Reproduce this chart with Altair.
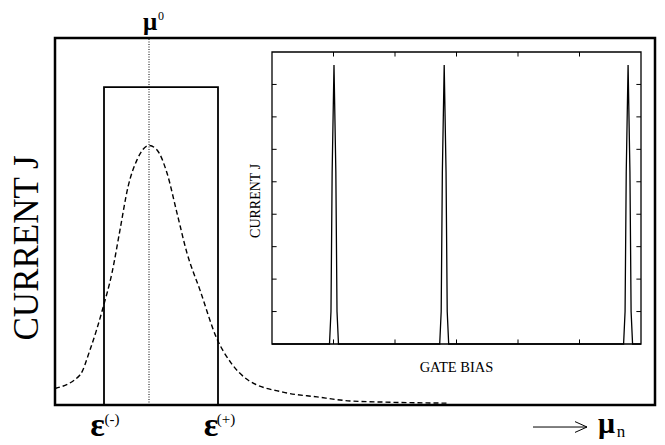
import altair as alt
import pandas as pd

# ---------------- main panel data (arbitrary units) ----------------
curve_x = [0.0, 2.5, 3.5, 4.8, 5.7, 6.5, 7.3, 8.2, 9.4, 10.2, 11.2, 12.2, 13.2, 14.5,
           16.2, 17.6, 19.3, 22.8, 26.2, 29.5, 32.8, 39.3]
curve_y = [0.045, 0.082, 0.15, 0.265, 0.36, 0.477, 0.594, 0.668, 0.707, 0.695, 0.632,
           0.523, 0.414, 0.313, 0.18, 0.115, 0.068, 0.035, 0.022, 0.011, 0.008, 0.005]
window_x = [4.9, 4.9, 16.3, 16.3]
window_y = [0.0, 0.866, 0.866, 0.0]
mu0 = 9.4
eps_minus = 4.9
eps_plus = 16.3

# ---------------- inset data ----------------
inset_x = [0.0,
           0.935, 0.959, 0.978, 1.008, 1.038, 1.057, 1.081,
           2.727, 2.751, 2.770, 2.800, 2.830, 2.849, 2.873,
           5.717, 5.741, 5.760, 5.790, 5.820, 5.839, 5.863,
           6.0]
inset_y = [0.0,
           0.0, 1.0, 5.3, 8.6, 5.3, 1.0, 0.0,
           0.0, 1.0, 5.3, 8.6, 5.3, 1.0, 0.0,
           0.0, 1.0, 5.3, 8.6, 5.3, 1.0, 0.0,
           0.0]
inset_xticks = [1, 2, 3, 4, 5]
inset_yticks = [1, 2, 3, 4, 5, 6, 7, 8]

SERIF = "Liberation Serif"

# ---------------- main scales ----------------
mx = dict(scale=alt.Scale(domain=[0, 60]), axis=None)
my = dict(scale=alt.Scale(domain=[0, 1]), axis=None)

curve_df = pd.DataFrame({"x": curve_x, "y": curve_y, "i": range(len(curve_x))})
window_df = pd.DataFrame({"x": window_x, "y": window_y, "i": range(len(window_x))})

curve = alt.Chart(curve_df).mark_line(
    color="black", strokeWidth=1.4, strokeDash=[5, 3], interpolate="monotone"
).encode(x=alt.X("x:Q", **mx), y=alt.Y("y:Q", **my), order="i:Q")

window = alt.Chart(window_df).mark_line(color="black", strokeWidth=1.8).encode(
    x=alt.X("x:Q", **mx), y=alt.Y("y:Q", **my), order="i:Q")

dotted = alt.Chart(pd.DataFrame({"x": [mu0], "y": [0.0], "y2": [1.0]})).mark_rule(
    color="black", strokeWidth=1, strokeDash=[1, 1.5]
).encode(x=alt.X("x:Q", **mx), y=alt.Y("y:Q", **my), y2="y2:Q")


def label(text, x, y, size, font=SERIF, angle=0, baseline="alphabetic", weight="normal"):
    return alt.Chart(pd.DataFrame({"x": [x], "y": [y], "t": [text]})).mark_text(
        font=font, fontSize=size, angle=angle, align="center", baseline=baseline,
        fontWeight=weight, color="black"
    ).encode(x=alt.X("x:Q", **mx), y=alt.Y("y:Q", **my), text="t:N")


main_ylabel = label("CURRENT J", -2.8, 0.428, 35, angle=270, baseline="middle")
mu_label = label("μ", mu0 + 0.1, 1.021, 25, weight="bold")
mu_sup = label("0", mu0 + 1.2, 1.050, 12)
em_label = label("ε", eps_minus - 0.65, -0.085, 34, weight="bold")
em_sup = label("(-)", eps_minus + 0.8, -0.052, 15)
ep_label = label("ε", eps_plus - 0.7, -0.085, 34, weight="bold")
ep_sup = label("(+)", eps_plus + 0.8, -0.052, 15)
mu_n = label("μ", 55.15, -0.076, 30, weight="bold")
n_sub = label("n", 56.6, -0.087, 17)

arrow_df = pd.DataFrame({"x": [47.8], "x2": [53.2], "y": [-0.06]})
arrow_shaft = alt.Chart(arrow_df).mark_rule(color="black", strokeWidth=1).encode(
    x=alt.X("x:Q", **mx), x2="x2:Q", y=alt.Y("y:Q", **my))
arrow_head = alt.Chart(arrow_df).mark_point(
    shape="M -1 -0.45 L 0 0 L -1 0.45", filled=False, size=576,
    color="black", strokeWidth=1, opacity=1
).encode(x=alt.X("x2:Q", **mx), y=alt.Y("y:Q", **my))

main = alt.layer(curve, window, dotted, main_ylabel, mu_label, mu_sup, em_label, em_sup,
                 ep_label, ep_sup, arrow_shaft, arrow_head, mu_n, n_sub)

# ---------------- inset scales ----------------
ix = dict(scale=alt.Scale(domain=[0, 6], range=[217, 586]), axis=None)
iy = dict(scale=alt.Scale(domain=[0, 9], range=[306, 14]), axis=None)
TX = 0.075   # tick length in inset x units
TY = 0.14    # tick length in inset y units

frame = alt.Chart(pd.DataFrame({"x": [0], "x2": [6], "y": [0], "y2": [9]})).mark_rect(
    fillOpacity=0, stroke="black", strokeWidth=1.3
).encode(x=alt.X("x:Q", **ix), x2="x2:Q", y=alt.Y("y:Q", **iy), y2="y2:Q")

xt = pd.DataFrame({"x": inset_xticks})
xt_bot = alt.Chart(xt).mark_rule(color="black", strokeWidth=1).encode(
    x=alt.X("x:Q", **ix), y=alt.Y("a:Q", **iy), y2="b:Q"
).transform_calculate(a="0", b=str(TY))
xt_top = alt.Chart(xt).mark_rule(color="black", strokeWidth=1).encode(
    x=alt.X("x:Q", **ix), y=alt.Y("a:Q", **iy), y2="b:Q"
).transform_calculate(a="9", b=str(9 - TY))

yt = pd.DataFrame({"y": inset_yticks})
yt_left = alt.Chart(yt).mark_rule(color="black", strokeWidth=1).encode(
    y=alt.Y("y:Q", **iy), x=alt.X("a:Q", **ix), x2="b:Q"
).transform_calculate(a="0", b=str(TX))
yt_right = alt.Chart(yt).mark_rule(color="black", strokeWidth=1).encode(
    y=alt.Y("y:Q", **iy), x=alt.X("a:Q", **ix), x2="b:Q"
).transform_calculate(a="6", b=str(6 - TX))

peaks = alt.Chart(pd.DataFrame({"x": inset_x, "y": inset_y, "i": range(len(inset_x))})).mark_line(
    color="black", strokeWidth=1.3
).encode(x=alt.X("x:Q", **ix), y=alt.Y("y:Q", **iy), order="i:Q")


def ilabel(text, x, y, size, angle=0):
    return alt.Chart(pd.DataFrame({"x": [x], "y": [y], "t": [text]})).mark_text(
        font=SERIF, fontSize=size, angle=angle, align="center", baseline="middle", color="black"
    ).encode(x=alt.X("x:Q", **ix), y=alt.Y("y:Q", **iy), text="t:N")


inset_ylabel = ilabel("CURRENT J", -0.26, 4.41, 14, angle=270)
inset_xlabel = ilabel("GATE BIAS", 3.0, -0.74, 14.5)

inset = alt.layer(frame, xt_bot, xt_top, yt_left, yt_right, peaks, inset_ylabel, inset_xlabel)

chart = alt.layer(main, inset).resolve_scale(x="independent", y="independent").properties(
    width=600, height=367,
    autosize=alt.AutoSizeParams(type="none"),
    padding={"left": 47, "top": 30, "right": 2, "bottom": 38},
).configure_view(stroke="black", strokeWidth=2.5)

chart.save("out.html", embed_options={"renderer": "svg", "actions": False})
